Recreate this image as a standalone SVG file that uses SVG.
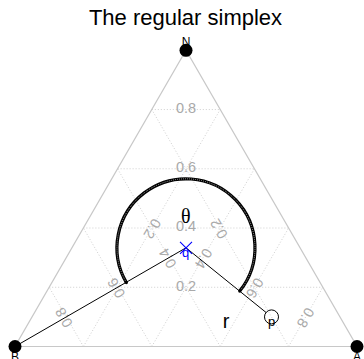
<svg xmlns="http://www.w3.org/2000/svg" width="364" height="359" viewBox="0 0 364 359">
<style>
.grid{stroke:#cfcfcf;stroke-width:1;stroke-dasharray:1 2;fill:none}
.edge{stroke:#c8c8c8;stroke-width:1.2;fill:none}
.lab{font-family:"Liberation Sans",Arial,sans-serif;font-size:14.5px;fill:#a9a9a9;text-anchor:middle;dominant-baseline:central}
.vtx{font-family:"Liberation Sans",Arial,sans-serif;font-size:12px;fill:#000;text-anchor:middle}
.ln{stroke:#000;stroke-width:1;fill:none}
</style>
<rect width="364" height="359" fill="#fff"/>
<text x="185.5" y="25" font-family="Liberation Sans, Arial, sans-serif" font-size="22" text-anchor="middle" fill="#000">The regular simplex</text>
<g id="grid">
<path class="grid" d="M49.2 287.26H322.8M83.4 228.02H288.6M117.6 168.78H254.4M151.8 109.54H220.2"/>
<path class="grid" d="M83.4 346.5L220.2 109.54M151.8 346.5L254.4 168.78M220.2 346.5L288.6 228.02M288.6 346.5L322.8 287.26"/>
<path class="grid" d="M288.6 346.5L151.8 109.54M220.2 346.5L117.6 168.78M151.8 346.5L83.4 228.02M83.4 346.5L49.2 287.26"/>
<path class="edge" d="M15 346.5L357 346.5L186 50.3Z"/>
</g>
<g id="labels">
<text class="lab" x="186" y="285.6">0.2</text>
<text class="lab" x="186" y="226.4">0.4</text>
<text class="lab" x="186" y="167.2">0.6</text>
<text class="lab" x="186" y="107.9">0.8</text>
<text class="lab" transform="translate(64,317.5) rotate(-120)">0.8</text>
<text class="lab" transform="translate(116.3,288) rotate(-120)">0.6</text>
<text class="lab" transform="translate(167.6,258.3) rotate(-120)">0.4</text>
<text class="lab" transform="translate(218.9,228.7) rotate(-120)">0.2</text>
<text class="lab" transform="translate(305.5,317.8) rotate(120)">0.8</text>
<text class="lab" transform="translate(254.8,288.1) rotate(120)">0.6</text>
<text class="lab" transform="translate(203.6,258.4) rotate(120)">0.4</text>
<text class="lab" transform="translate(152.3,228.8) rotate(120)">0.2</text>
</g>
<g id="connectors">
<path class="ln" d="M15 346.5L186 247.8L266.1 312.5"/>
<path d="M126.4 282.6A69 69 0 1 1 239.7 291.1" stroke="#000" stroke-width="3.2" fill="none"/>
<path d="M126.4 282.6A69 69 0 1 1 239.7 291.1" stroke="#fff" stroke-width="0.8" stroke-dasharray="0.7 1.3" fill="none"/>
<circle cx="126.4" cy="282.6" r="1.6" fill="#000"/>
<circle cx="239.7" cy="291.1" r="1.6" fill="#000"/>
</g>
<g id="N">
<circle cx="186" cy="50.3" r="6.5" fill="#000"/>
<text class="vtx" x="186" y="45.5">N</text>
</g>
<g id="B">
<circle cx="15" cy="346.5" r="6.5" fill="#000"/>
<text class="vtx" x="15" y="360.5">B</text>
</g>
<g id="A">
<circle cx="357" cy="346.5" r="6.5" fill="#000"/>
<text class="vtx" x="357" y="360.5">A</text>
</g>
<g id="q">
<path d="M180 241.8L192 253.8M192 241.8L180 253.8" stroke="#0000ff" stroke-width="1.1"/>
<text x="185.5" y="256.5" font-family="Liberation Sans, Arial, sans-serif" font-size="13" fill="#0000ff" text-anchor="middle">q</text>
</g>
<g id="p">
<circle cx="271.5" cy="316.9" r="7" fill="none" stroke="#000" stroke-width="1"/>
<text x="271.5" y="325.5" font-family="Liberation Sans, Arial, sans-serif" font-size="13" fill="#000" text-anchor="middle">p</text>
</g>
<g id="theta">
<text x="185.7" y="223.3" font-family="Liberation Serif, Times New Roman, serif" font-size="20" fill="#000" text-anchor="middle">θ</text>
</g>
<g id="r">
<text x="226" y="328" font-family="Liberation Sans, Arial, sans-serif" font-size="20" fill="#000" text-anchor="middle">r</text>
</g>
</svg>
